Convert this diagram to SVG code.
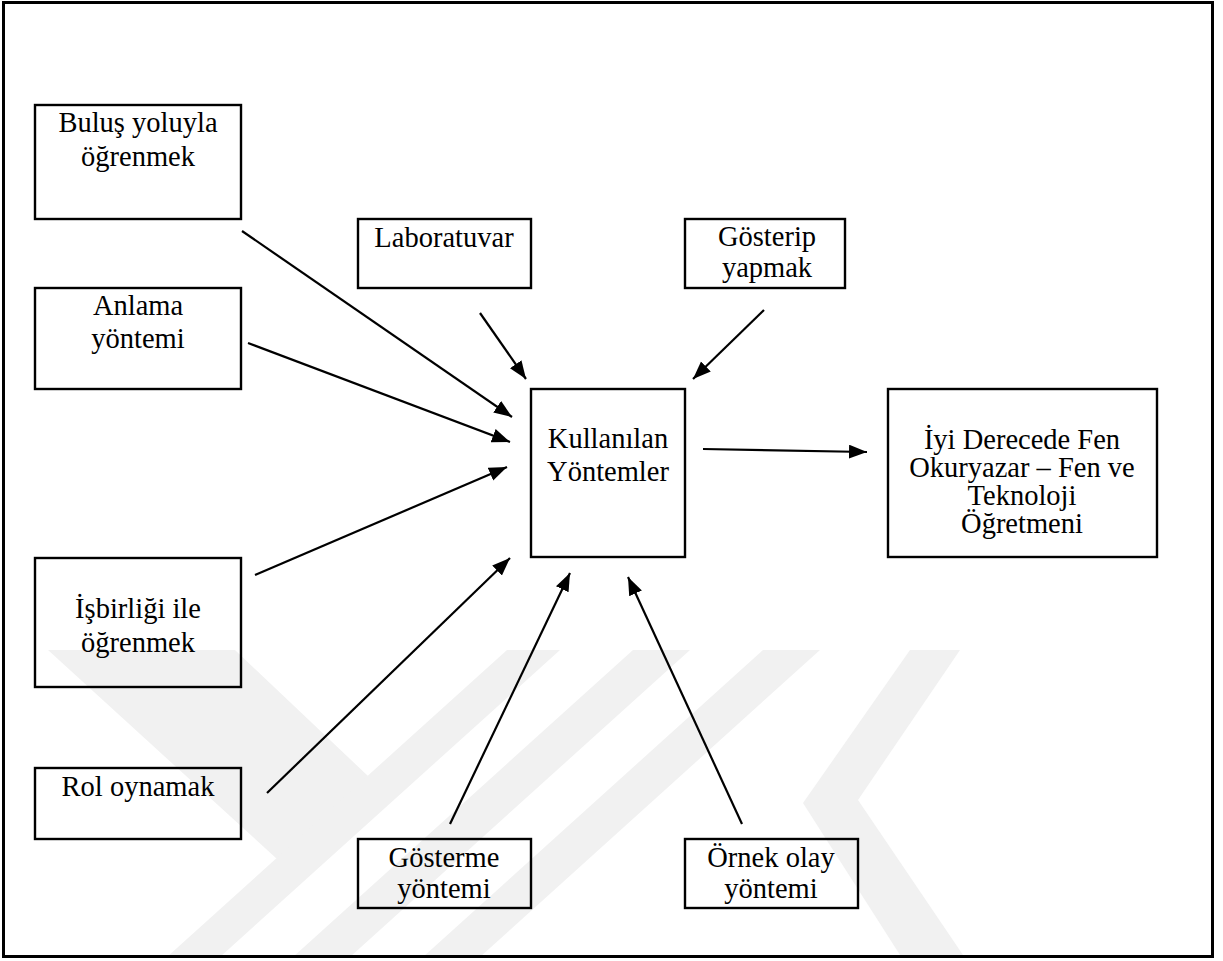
<svg xmlns="http://www.w3.org/2000/svg" width="1223" height="961" viewBox="0 0 1223 961">
  <style>
    .box { fill: none; stroke: #000; stroke-width: 2.4; }
    .lbl { font-family: "Liberation Serif", "Times New Roman", serif; font-size: 28.5px; fill: #000; text-anchor: middle; }
    .link { stroke: #000; stroke-width: 2.2; fill: none; marker-end: url(#head); }
    .mark { fill: #f1f1f1; }
  </style>
  <defs>
    <marker id="head" markerUnits="userSpaceOnUse" markerWidth="19" markerHeight="15" refX="18" refY="7" orient="auto">
      <path d="M0,0 L18,7 L0,14 Z" fill="#000"/>
    </marker>
  </defs>

  <rect x="0" y="0" width="1223" height="961" fill="#fff"/>

  <!-- faint background emblem -->
  <g id="emblem">
    <polygon class="mark" points="48,650 235,650 368,776 300,880"/>
    <polygon class="mark" points="507,650 560,650 220,957 167,957"/>
    <polygon class="mark" points="633,650 690,650 350,957 293,957"/>
    <polygon class="mark" points="763,650 820,650 480,957 423,957"/>
    <polygon class="mark" points="910,650 960,650 858,800 963,955 900,955 803,803"/>
  </g>

  <!-- page frame -->
  <rect x="3.5" y="2.5" width="1209" height="954" fill="none" stroke="#000" stroke-width="3"/>

  <g id="n-bulus">
    <rect class="box" x="35" y="105" width="206" height="114"/>
    <text class="lbl" x="138" y="132">Buluş yoluyla</text>
    <text class="lbl" x="138" y="166">öğrenmek</text>
  </g>
  <g id="n-anlama">
    <rect class="box" x="35" y="288" width="206" height="101"/>
    <text class="lbl" x="138" y="315">Anlama</text>
    <text class="lbl" x="138" y="348">yöntemi</text>
  </g>
  <g id="n-isbirligi">
    <rect class="box" x="35" y="558" width="206" height="129"/>
    <text class="lbl" x="138" y="618">İşbirliği ile</text>
    <text class="lbl" x="138" y="652">öğrenmek</text>
  </g>
  <g id="n-rol">
    <rect class="box" x="35" y="768" width="206" height="71"/>
    <text class="lbl" x="138" y="796">Rol oynamak</text>
  </g>
  <g id="n-lab">
    <rect class="box" x="358" y="219" width="173" height="69"/>
    <text class="lbl" x="444" y="247">Laboratuvar</text>
  </g>
  <g id="n-gosterip">
    <rect class="box" x="685" y="219" width="160" height="69"/>
    <text class="lbl" x="767" y="246">Gösterip</text>
    <text class="lbl" x="767" y="277">yapmak</text>
  </g>
  <g id="n-kullanilan">
    <rect class="box" x="531" y="389" width="154" height="168"/>
    <text class="lbl" x="608" y="448">Kullanılan</text>
    <text class="lbl" x="608" y="481">Yöntemler</text>
  </g>
  <g id="n-iyi">
    <rect class="box" x="888" y="389" width="269" height="168"/>
    <text class="lbl" x="1022" y="449">İyi Derecede Fen</text>
    <text class="lbl" x="1022" y="477">Okuryazar – Fen ve</text>
    <text class="lbl" x="1022" y="505">Teknoloji</text>
    <text class="lbl" x="1022" y="533">Öğretmeni</text>
  </g>
  <g id="n-gosterme">
    <rect class="box" x="358" y="839" width="173" height="69"/>
    <text class="lbl" x="444" y="867">Gösterme</text>
    <text class="lbl" x="444" y="898">yöntemi</text>
  </g>
  <g id="n-ornek">
    <rect class="box" x="685" y="839" width="173" height="69"/>
    <text class="lbl" x="771" y="867">Örnek olay</text>
    <text class="lbl" x="771" y="898">yöntemi</text>
  </g>

  <g id="connectors">
    <line class="link" x1="242" y1="231" x2="512" y2="417"/>
    <line class="link" x1="248" y1="343" x2="510" y2="442"/>
    <line class="link" x1="255" y1="575" x2="507" y2="467"/>
    <line class="link" x1="267" y1="793" x2="510" y2="558"/>
    <line class="link" x1="450" y1="824" x2="570" y2="573"/>
    <line class="link" x1="742" y1="824" x2="628" y2="577"/>
    <line class="link" x1="480" y1="313" x2="526" y2="379"/>
    <line class="link" x1="764" y1="310" x2="693" y2="379"/>
    <line class="link" x1="703" y1="449" x2="867" y2="452"/>
  </g>
</svg>
